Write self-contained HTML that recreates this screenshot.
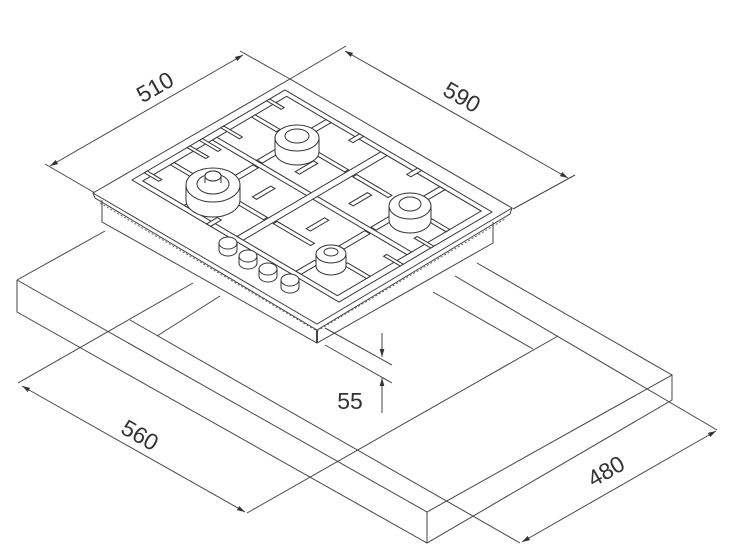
<!DOCTYPE html>
<html><head><meta charset="utf-8"><style>
html,body{margin:0;padding:0;background:#fff;}
svg{display:block}
text{font-family:"Liberation Sans",sans-serif;fill:#333;font-size:23px}
</style></head><body>
<svg width="740" height="552" viewBox="0 0 740 552" xmlns="http://www.w3.org/2000/svg">
<defs>
<marker id="a" viewBox="0 0 10 6" refX="10" refY="3" markerWidth="8" markerHeight="5" orient="auto-start-reverse" markerUnits="userSpaceOnUse">
<path d="M0,0 L10,3 L0,6 z" fill="#333"/></marker>
</defs>
<g fill="none" stroke="#444" stroke-width="1">
<path d="M17,280 L105,231 M17,280 L427,512 L672,375 L477,263 M17,280 L17,312 L427,543 L672,400 L672,375 M427,512 L427,543"/>
<path d="M193,283 L18,383 M220,296 L157,336 M130,320 L520,543 M558,336 L247,513 M433,292 L533,349 M455,276 L717,430"/>
<line x1="22" y1="386" x2="245" y2="512" marker-start="url(#a)" marker-end="url(#a)"/>
<line x1="522" y1="542" x2="716" y2="431" marker-start="url(#a)" marker-end="url(#a)"/>
<path d="M95,193 L45,164 M290,79 L240,51 M290,79 L346,46 M513,209 L575,175"/>
<line x1="50" y1="166" x2="243" y2="55" marker-start="url(#a)" marker-end="url(#a)"/>
<line x1="345" y1="51" x2="568" y2="178" marker-start="url(#a)" marker-end="url(#a)"/>
<path d="M325,328 L392,365 M325,345 L392,383"/>
<line x1="382" y1="333" x2="382" y2="357" marker-end="url(#a)"/>
<line x1="382" y1="413" x2="382" y2="378" marker-end="url(#a)"/>
<path d="M93,193 L290,79 L512,208 L317,324 Z" fill="#fff"/>
<path d="M93,193 L95,198 L317,330 L510,214 L512,208"/>
<path d="M102,200 L102,222 L317,343 L493,243 L493,222"/>
<path d="M317,330 L317,343" stroke-width="2"/>
<path d="M100,203 L317,331 L505,219" stroke-dasharray="2,2" stroke="#666"/>
</g>
<g transform="matrix(1.53,-0.9,2.07,1.22,132,180)" fill="#fff" stroke="#333" stroke-width="1">
<rect x="0" y="0" width="100" height="100" vector-effect="non-scaling-stroke"/>
<rect x="3" y="3" width="94" height="94" vector-effect="non-scaling-stroke"/>
<rect x="48.5" y="3" width="3" height="94" vector-effect="non-scaling-stroke"/>
<rect x="3" y="48.5" width="94" height="3" vector-effect="non-scaling-stroke"/>
<rect x="21" y="3" width="2.5" height="10" vector-effect="non-scaling-stroke"/>
<rect x="21" y="35" width="2.5" height="13" vector-effect="non-scaling-stroke"/>
<rect x="3" y="23" width="8" height="2.5" vector-effect="non-scaling-stroke"/>
<rect x="34" y="23" width="14" height="2.5" vector-effect="non-scaling-stroke"/>
<rect x="74" y="3" width="2.5" height="12" vector-effect="non-scaling-stroke"/>
<rect x="74" y="32" width="2.5" height="16" vector-effect="non-scaling-stroke"/>
<rect x="52" y="22" width="14" height="2.5" vector-effect="non-scaling-stroke"/>
<rect x="84" y="22" width="13" height="2.5" vector-effect="non-scaling-stroke"/>
<rect x="74" y="52" width="2.5" height="17" vector-effect="non-scaling-stroke"/>
<rect x="74" y="87" width="2.5" height="10" vector-effect="non-scaling-stroke"/>
<rect x="52" y="77" width="15" height="2.5" vector-effect="non-scaling-stroke"/>
<rect x="84" y="77" width="13" height="2.5" vector-effect="non-scaling-stroke"/>
<rect x="22" y="52" width="2.5" height="18" vector-effect="non-scaling-stroke"/>
<rect x="22" y="86" width="2.5" height="11" vector-effect="non-scaling-stroke"/>
<rect x="3" y="77" width="12" height="2.5" vector-effect="non-scaling-stroke"/>
<rect x="31" y="77" width="17" height="2.5" vector-effect="non-scaling-stroke"/>
<rect x="8" y="0" width="2" height="7" vector-effect="non-scaling-stroke"/>
<rect x="36" y="0" width="2" height="9" vector-effect="non-scaling-stroke"/>
<rect x="44" y="0" width="2" height="9" vector-effect="non-scaling-stroke"/>
<rect x="58" y="0" width="2" height="9" vector-effect="non-scaling-stroke"/>
<rect x="88" y="0" width="2" height="7" vector-effect="non-scaling-stroke"/>
<rect x="30" y="36" width="12" height="2" vector-effect="non-scaling-stroke"/>
<rect x="30" y="62" width="12" height="2" vector-effect="non-scaling-stroke"/>
<rect x="58" y="36" width="12" height="2" vector-effect="non-scaling-stroke"/>
<rect x="58" y="62" width="12" height="2" vector-effect="non-scaling-stroke"/>
<rect x="93" y="36" width="7" height="2" vector-effect="non-scaling-stroke"/>
<rect x="93" y="64" width="7" height="2" vector-effect="non-scaling-stroke"/>
<rect x="0" y="36" width="7" height="2" vector-effect="non-scaling-stroke"/>
<rect x="40" y="92" width="2" height="8" vector-effect="non-scaling-stroke"/>
<rect x="60" y="92" width="2" height="8" vector-effect="non-scaling-stroke"/>
</g>
<g fill="#fff" stroke="#333" stroke-width="1">
<path d="M186,185 L186,200 A27,17 0 0 0 240,200 L240,185"/>
<ellipse cx="213" cy="185" rx="27" ry="17"/>
<ellipse cx="213" cy="184" rx="16" ry="10"/>
<path d="M205,183 L205,176 A8,5 0 0 1 221,176 L221,183"/>
<ellipse cx="213" cy="176" rx="8" ry="5"/>
<path d="M275,138 L275,152 A22,13 0 0 0 319,152 L319,138"/>
<ellipse cx="297" cy="138" rx="22" ry="13"/>
<ellipse cx="297" cy="136" rx="12" ry="7"/>
<path d="M389,206 L389,220 A21,13 0 0 0 431,220 L431,206"/>
<ellipse cx="410" cy="206" rx="21" ry="13"/>
<ellipse cx="410" cy="204" rx="11" ry="7"/>
<path d="M316,254 L316,266 A15,9 0 0 0 346,266 L346,254"/>
<ellipse cx="331" cy="254" rx="15" ry="9"/>
<ellipse cx="331" cy="252" rx="7" ry="4"/>
<path d="M219,243 L219,250 A9,6 0 0 0 237,250 L237,243"/><ellipse cx="228" cy="243" rx="9" ry="6"/>
<path d="M239,256 L239,263 A9,6 0 0 0 257,263 L257,256"/><ellipse cx="248" cy="256" rx="9" ry="6"/>
<path d="M259,269 L259,276 A9,6 0 0 0 277,276 L277,269"/><ellipse cx="268" cy="269" rx="9" ry="6"/>
<path d="M281,280 L281,287 A9,6 0 0 0 299,287 L299,280"/><ellipse cx="290" cy="280" rx="9" ry="6"/>
</g>
<text x="155" y="95" text-anchor="middle" transform="rotate(-30 155 87)">510</text>
<text x="462" y="105" text-anchor="middle" transform="rotate(30 462 97)">590</text>
<text x="140" y="443" text-anchor="middle" transform="rotate(30 140 435)">560</text>
<text x="606" y="479" text-anchor="middle" transform="rotate(-30 606 471)">480</text>
<text x="350" y="409" text-anchor="middle">55</text>
</svg>
</body></html>
